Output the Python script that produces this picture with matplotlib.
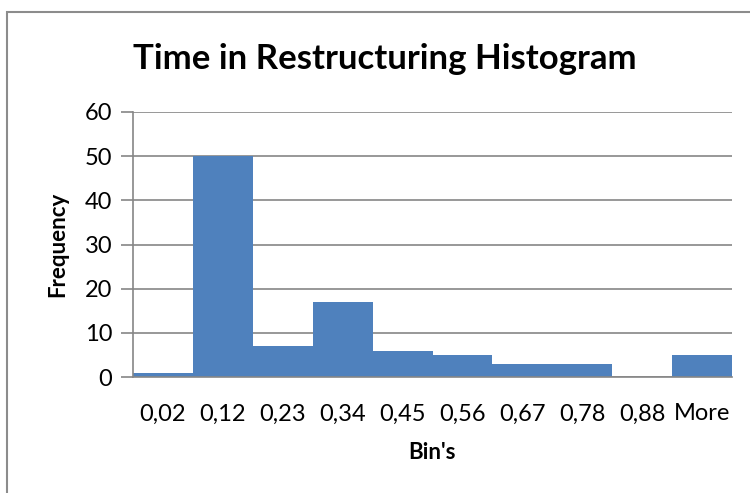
import matplotlib
matplotlib.use("Agg")
import matplotlib.pyplot as plt
from matplotlib.patches import Rectangle

plt.rcParams['font.family'] = ['Lato', 'DejaVu Sans']

bins = ['0,02', '0,12', '0,23', '0,34', '0,45', '0,56', '0,67', '0,78', '0,88', 'More']
frequency = [1, 50, 7, 17, 6, 5, 3, 3, 0, 5]

W, H = 750, 493
fig = plt.figure(figsize=(W / 100, H / 100), dpi=100)

# chart-area frame (only left and top edges fall inside the canvas)
fig.patches.append(Rectangle((6.5 / W, -0.1), 1.2, 1 - 12.5 / H + 0.1,
                             transform=fig.transFigure, fill=False,
                             edgecolor='#8c8c8c', linewidth=1.5))

ax = fig.add_axes([133 / W, 1 - 377 / H, (732 - 133) / W, (377 - 112) / H])

x = range(len(bins))
ax.bar(x, frequency, width=1.0, color='#4f81bd', edgecolor='none', zorder=2)

ax.set_xlim(-0.5, len(bins) - 0.5)
ax.set_ylim(0, 60)
ax.set_yticks(range(0, 61, 10))
ax.set_xticks(list(x))
ax.set_xticklabels(bins)

ax.yaxis.grid(True, color='#868686', linewidth=1.2, zorder=0)
ax.set_axisbelow(True)
for side in ('top', 'right'):
    ax.spines[side].set_visible(False)
for side in ('left', 'bottom'):
    ax.spines[side].set_color('#868686')
    ax.spines[side].set_linewidth(1.2)

ax.tick_params(axis='y', length=9, width=1.2, color='#868686', labelsize=17, pad=6)
ax.tick_params(axis='x', length=0, labelsize=17, pad=19)

ax.set_xlabel("Bin's", fontsize=16, fontweight='bold', labelpad=13)
ax.set_ylabel('Frequency', fontsize=16, fontweight='bold', labelpad=12)

fig.text(385 / W, 1 - 59 / H, 'Time in Restructuring Histogram',
         ha='center', va='center', fontsize=25, fontweight='bold')

fig.savefig('out.png', dpi=100)
